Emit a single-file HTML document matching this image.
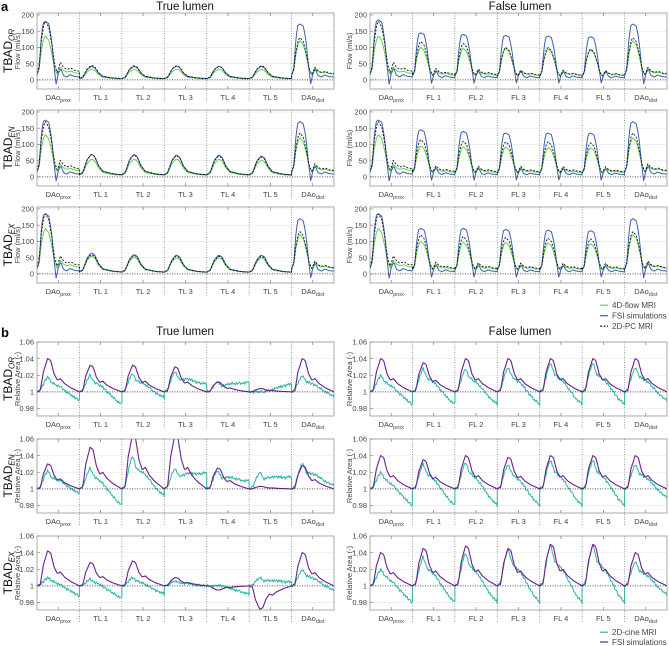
<!DOCTYPE html>
<html><head><meta charset="utf-8">
<style>
body{margin:0;background:#fff;}
svg{display:block;font-family:"Liberation Sans",Arial,sans-serif;}
</style></head>
<body>
<svg id="fig" width="669" height="646" viewBox="0 0 669 646" xmlns="http://www.w3.org/2000/svg"></svg>
<script>
// ---------- data ----------
const catsL = ["DAo|prox","TL 1","TL 2","TL 3","TL 4","TL 5","DAo|dist"];
const catsR = ["DAo|prox","FL 1","FL 2","FL 3","FL 4","FL 5","DAo|dist"];
const rowNames = ["OR","EN","EX"];
const flowTicks = [0,50,100,150,200];
const areaTicks = [0.98,1,1.02,1.04,1.06];
const areaTickLabels = ["0.98","1","1.02","1.04","1.06"];
// peak flow per segment (ml/s)
const flowBlueL  = [[180,42,42,43,42,42,172],[175,70,70,68,68,65,170],[185,65,60,58,58,58,170]];
const flowBlackL = [[180,45,44,44,42,44,130],[170,70,68,66,65,62,135],[185,60,58,56,55,55,130]];
const flowGreenL = [[135,33,33,33,33,33,120],[130,55,55,55,55,52,120],[140,55,52,50,50,50,120]];
const flowBlueR  = [[185,145,140,137,135,133,172],[175,145,140,135,135,135,170],[185,140,140,137,135,133,170]];
const flowBlackR = [[180,118,112,100,100,95,130],[170,115,110,108,108,105,135],[185,120,115,112,110,108,130]];
const flowGreenR = [[135,100,97,97,95,92,120],[130,95,93,92,90,90,120],[140,100,98,97,95,93,120]];
// peak relative area per segment
const areaPurpleL = [[1.04,1.032,1.032,1.03,1.012,1.004,1.04],[1.03,1.05,1.065,1.065,1.025,1.003,1.028],[1.042,1.028,1.03,1.01,0.995,0.972,1.04]];
const areaTealL   = [[1.018,1.02,1.022,1.025,1.012,1.0,1.02],[1.022,1.025,1.04,1.025,1.022,1.02,1.032],[1.01,1.008,1.01,1.006,1.0,1.01,1.02]];
const tealEndL    = [[0.99,0.985,0.993,1.01,1.012,1.01,0.995],[0.995,0.98,0.992,1.02,1.01,1.015,1.005],[0.988,0.985,0.99,1.0,0.99,1.005,0.995]];
const areaPurpleR = [[1.04,1.035,1.04,1.04,1.04,1.04,1.04],[1.04,1.035,1.04,1.038,1.04,1.04,1.04],[1.04,1.045,1.048,1.045,1.05,1.05,1.04]];
const areaTealR   = [[1.02,1.028,1.028,1.03,1.035,1.035,1.03],[1.02,1.03,1.032,1.03,1.035,1.035,1.03],[1.02,1.035,1.04,1.045,1.05,1.05,1.03]];
const tealEndR    = [[0.985,0.985,0.985,0.985,0.985,0.985,0.99],[0.98,0.98,0.98,0.98,0.98,0.98,0.99],[0.98,0.98,0.98,0.98,0.98,0.98,0.99]];
// normalized waveform shapes [fraction, value]
const shapeBlueDao = [[0,.08],[.05,.2],[.1,.7],[.14,.97],[.2,1],[.28,.96],[.34,.7],[.4,.25],[.45,-.07],[.5,.1],[.56,.2],[.62,.08],[.7,.05],[.78,.09],[.88,.06],[1,.05]];
const shapeGreenDao = [[0,.12],[.05,.25],[.1,.65],[.16,.95],[.2,1],[.28,.9],[.35,.6],[.42,.25],[.48,.12],[.55,.3],[.62,.22],[.7,.18],[.8,.2],[.9,.16],[1,.15]];
const shapeLumen = [[0,.1],[.08,.2],[.18,.75],[.28,1],[.36,.9],[.45,.5],[.55,.25],[.65,.2],[.75,.15],[.85,.12],[1,.1]];
const shapePurple = [[0,0],[.08,.05],[.15,.6],[.25,1],[.32,.95],[.4,.55],[.48,.35],[.55,.4],[.65,.25],[.8,.12],[1,0]];
const shapeTeal = [[0,0],[.08,.1],[.18,.7],[.25,1],[.35,.6],[.45,.55],[.55,.5],[.7,.3],[.85,.1],[1,0]];
const tealJitter = [0,.3,-.4,.5,-.2,.6,-.5,.2,.4,-.6,.3,-.1,.5,-.4,.2,-.3,.6,-.2,.1,-.5,.4,-.3,.2,.5,-.4,.1,-.2,.3,-.6,.4];

// ---------- layout ----------
const NS="http://www.w3.org/2000/svg";
const svg=document.getElementById('fig');
const colX=[[37,334],[370,667]];
const TXT='#444';
function mk(tag,attrs,parent){const e=document.createElementNS(NS,tag);for(const k in attrs)e.setAttribute(k,attrs[k]);(parent||svg).appendChild(e);return e;}
function interp(shape,f){for(let i=1;i<shape.length;i++){if(f<=shape[i][0]){const a=shape[i-1],b=shape[i];return a[1]+(b[1]-a[1])*(f-a[0])/(b[0]-a[0]);}}return shape[shape.length-1][1];}
let clipId=0;

function text(str,x,y,opts){const t=mk('text',Object.assign({x:x,y:y,'font-size':7.5,fill:TXT},opts||{}));t.textContent=str;return t;}

function catLabel(g,lab,x,y){
  const t=mk('text',{x:x,y:y,'font-size':7.5,fill:TXT,'text-anchor':'middle'},g);
  
  
  if(lab.includes('|')){const p=lab.split('|');const s1=mk('tspan',{},t);s1.textContent=p[0];const s2=mk('tspan',{'font-size':5.5,dy:2},t);s2.textContent=p[1];}
  else t.textContent=lab;
}

function panel(col,top,h,ymin,ymax,ticks,tickLabs,cats,name){
  const [x0,x1]=colX[col];
  const g=mk('g',{});
  
  
  const ys=v=>top+h-(v-ymin)/(ymax-ymin)*h;
  const segW=(x1-x0)/7;
  ticks.forEach((t,i)=>{
    const y=ys(t);
    mk('line',{x1:x0,x2:x1,y1:y,y2:y,stroke:'#e6e6e6','stroke-width':0.6},g);
    mk('line',{x1:x0,x2:x0+3,y1:y,y2:y,stroke:'#777','stroke-width':0.6},g);
    const tl=text(tickLabs[i],x0-3,y+2.7,{'text-anchor':'end'});
    g.appendChild(tl);
    
    
  });
  for(let i=1;i<7;i++){const x=x0+segW*i;mk('line',{x1:x,x2:x,y1:top,y2:top+h+13,stroke:'#888','stroke-width':0.8,'stroke-dasharray':'1,1.5'},g);}
  for(let i=0;i<7;i++){const x=x0+segW*(i+.5);
    mk('line',{x1:x,x2:x,y1:top,y2:top+3,stroke:'#666','stroke-width':0.6},g);
    mk('line',{x1:x,x2:x,y1:top+h,y2:top+h-3,stroke:'#666','stroke-width':0.6},g);
    catLabel(g,cats[i],x,top+h+11);}
  const cid='c'+(clipId++);
  const cp=mk('clipPath',{id:cid},g);mk('rect',{x:x0,y:top,width:x1-x0,height:h},cp);
  const lines=mk('g',{'clip-path':'url(#'+cid+')'},g);
  return {g,lines,ys,x0,x1,segW,top,h};
}

function drawSeries(P,vals,shapeFn,color,width,dash,name){
  let pts=[];
  for(let s=0;s<7;s++){
    const sh=shapeFn(s);
    const N=40;
    for(let k=0;k<=N;k++){const f=k/N;const x=P.x0+P.segW*(s+f);
      const v=sh(f,vals[s]);pts.push(x.toFixed(1)+','+P.ys(v).toFixed(1));}
  }
  const pl=mk('polyline',{points:pts.join(' '),fill:'none',stroke:color,'stroke-width':width,'stroke-linejoin':'round'},P.lines);
  if(dash)pl.setAttribute('stroke-dasharray',dash);
  
  
}

// headers
text('a',1,11,{'font-size':13,'font-weight':'bold',fill:'#000'});
text('True lumen',185,10,{'font-size':11.5,'text-anchor':'middle',fill:'#111'});
text('False lumen',520,10,{'font-size':11.5,'text-anchor':'middle',fill:'#111'});
text('b',1,337,{'font-size':13,'font-weight':'bold',fill:'#000'});
text('True lumen',185,335,{'font-size':11.5,'text-anchor':'middle',fill:'#111'});
text('False lumen',520,335,{'font-size':11.5,'text-anchor':'middle',fill:'#111'});

function rowTitle(r,cy){
  const t=mk('text',{transform:'translate(12,'+cy+') rotate(-90)','font-size':12,'text-anchor':'middle',fill:'#111'});
  
  
  const a=mk('tspan',{},t);a.textContent='TBAD';
  const b=mk('tspan',{'font-size':8,'font-style':'italic',dy:2.5},t);b.textContent=rowNames[r];
}
function yTitle(x,cy,str){const t=mk('text',{transform:'translate('+x+','+cy+') rotate(-90)','font-size':7.5,'text-anchor':'middle',fill:TXT});t.textContent=str;
  }

const flowMin=-28, flowMax=206, areaMin=0.971, areaMax=1.06;
for(let r=0;r<3;r++){
  const top=13+97*r,h=76;
  rowTitle(r,top+h/2);
  yTitle(20,top+h/2,'Flow (ml/s)');
  yTitle(352,top+h/2,'Flow (ml/s)');
  [[0,catsL,flowBlueL,flowBlackL,flowGreenL],[1,catsR,flowBlueR,flowBlackR,flowGreenR]].forEach(([c,cats,bl,bk,gr])=>{
    const P=panel(c,top,h,flowMin,flowMax,flowTicks,flowTicks.map(String),cats,'flow-panel-'+(c?'false':'true')+'-'+rowNames[r].toLowerCase());
    const dao=s=>s===0||s===6||c===1;
    drawSeries(P,gr[r],s=>(f,p)=>p*interp(dao(s)?shapeGreenDao:shapeLumen,f),'#66d14a',1,null,'series-4d-flow');
    drawSeries(P,bl[r],s=>(f,p)=>p*interp(dao(s)?shapeBlueDao:shapeLumen,f),'#3d5fb0',1,null,'series-fsi');
    drawSeries(P,bk[r],s=>(f,p)=>p*interp(dao(s)?shapeGreenDao:shapeLumen,f),'#111',0.9,'2,1.5','series-2d-pc');
    mk('line',{x1:P.x0,x2:P.x1,y1:P.ys(0),y2:P.ys(0),stroke:'#333','stroke-width':0.8,'stroke-dasharray':'1,1.5'},P.g);
    mk('rect',{x:P.x0,y:top,width:P.x1-P.x0,height:h,fill:'none',stroke:'#888','stroke-width':0.7},P.g);
  });
}
for(let r=0;r<3;r++){
  const top=342+97*r,h=74;
  rowTitle(r,top+h/2);
  yTitle(20,top+h/2,'Relative Area (-)');
  yTitle(352,top+h/2,'Relative Area (-)');
  [[0,catsL,areaPurpleL,areaTealL,tealEndL],[1,catsR,areaPurpleR,areaTealR,tealEndR]].forEach(([c,cats,pu,te,en])=>{
    const P=panel(c,top,h,areaMin,areaMax,areaTicks,areaTickLabels,cats,'area-panel-'+(c?'false':'true')+'-'+rowNames[r].toLowerCase());
    drawSeries(P,te[r],s=>(f,p)=>{const k=Math.round(f*40+s*13)%tealJitter.length;
      return 1+(p-1)*interp(shapeTeal,f)+Math.max(0,(f-.35)/.65)*(en[r][s]-1)+tealJitter[k]*0.003;},'#2bb5a0',1,null,'series-2d-cine');
    drawSeries(P,pu[r],s=>(f,p)=>1+(p-1)*interp(shapePurple,f),'#6b1f8c',1.1,null,'series-fsi-area');
    mk('line',{x1:P.x0,x2:P.x1,y1:P.ys(1),y2:P.ys(1),stroke:'#333','stroke-width':0.8,'stroke-dasharray':'1,1.5'},P.g);
    mk('rect',{x:P.x0,y:top,width:P.x1-P.x0,height:h,fill:'none',stroke:'#888','stroke-width':0.7},P.g);
  });
}
// legends
function legend(y,sp,items,name){
  const g=mk('g',{});
  items.forEach((it,i)=>{const yy=y+i*sp;
    const l=mk('line',{x1:600,x2:608,y1:yy-2.8,y2:yy-2.8,stroke:it[1],'stroke-width':1.2},g);
    if(it[2])l.setAttribute('stroke-dasharray','2,1.5');
    const t=mk('text',{x:612,y:yy,'font-size':8,fill:TXT},g);t.textContent=it[0];
    });
}
legend(308,10.5,[['4D-flow MRI','#66d14a'],['FSI simulations','#3d5fb0'],['2D-PC MRI','#111',true]],'legend-flow');
legend(635,9.8,[['2D-cine MRI','#2bb5a0'],['FSI simulations','#6b1f8c']],'legend-area');
</script>
</body></html>
